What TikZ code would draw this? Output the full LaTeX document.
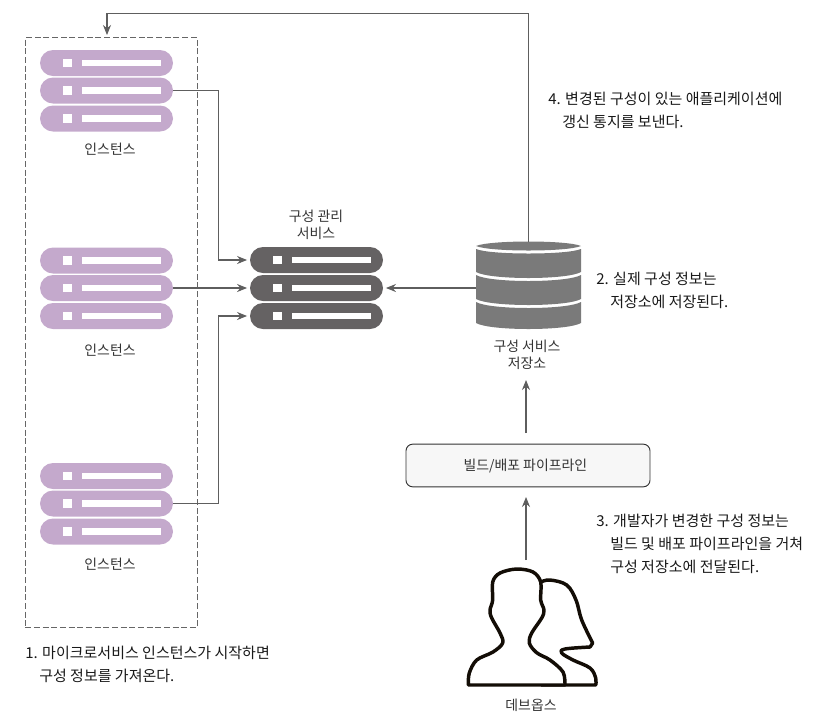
\documentclass[tikz,border=0pt]{standalone}
\usepackage{fontspec}
\setmainfont{Noto Sans CJK KR}[Scale=0.93]
\usetikzlibrary{arrows.meta, positioning}

\definecolor{lilac}{HTML}{C4A9CC}
\definecolor{darkstack}{HTML}{656263}
\definecolor{cyl}{HTML}{7A7A7A}
\definecolor{linegray}{HTML}{5E5E5E}
\definecolor{txt}{HTML}{333333}

\begin{document}
\begin{tikzpicture}[
  x=0.75pt, y=-0.75pt,
  every node/.style={text=txt, font=\fontsize{11.2}{13}\selectfont, align=center, inner sep=0pt},
  pill/.style={minimum width=99.75pt, minimum height=19.5pt, rounded corners=9.75pt},
  inst/.style={pill, fill=lilac},
  mgr/.style={pill, fill=darkstack},
  dot/.style={fill=white, minimum width=6.7pt, minimum height=6.5pt},
  bar/.style={fill=white, minimum width=59.5pt, minimum height=5pt},
  note/.style={align=left, anchor=north west, text=black!90, font=\fontsize{12.1}{17}\selectfont},
  arrow/.style={-{Stealth[length=7.5pt,width=6pt]}, linegray, line width=0.8pt}
]
\useasboundingbox (0,0) rectangle (818,719);

% instance groups
\foreach \g/\yy in {1/63, 2/260.5, 3/476} {
  \foreach \r/\dy in {a/0, b/27.5, c/55.5} {
    \node[inst] (inst\g\r) at (106.5,\yy+\dy) {};
    \node[dot] (dot\g\r) at (67.5,\yy+\dy) {};
    \node[bar] (bar\g\r) at (121.5,\yy+\dy) {};
  }
}
\node (lab1) at (110,149) {인스턴스};
\node (lab2) at (110,350) {인스턴스};
\node (lab3) at (110,564) {인스턴스};
\node[draw=black!60, dash pattern=on 4.5pt off 2pt, line width=1pt, minimum width=129pt, minimum height=442.5pt, anchor=north west] (group) at (24.5,37) {};

% config service
\foreach \r/\yy in {a/260, b/288, c/316} {
  \node[mgr] (mgr\r) at (316.5,\yy) {};
  \node[dot] (mdot\r) at (277.5,\yy) {};
  \node[bar] (mbar\r) at (331.5,\yy) {};
}
\node (mgrlab) at (316,225) {구성 관리\\서비스};

% store
\fill[cyl] (476,246) .. controls (490,240) and (567,240) .. (581,246) .. controls (567,252) and (490,252) .. (476,246) -- cycle;
\fill[cyl] (476,249) .. controls (490,255) and (567,255) .. (581,249) -- (581,272) .. controls (567,280) and (490,280) .. (476,272) -- cycle;
\fill[cyl] (476,275) .. controls (490,283) and (567,283) .. (581,275) -- (581,299) .. controls (567,307) and (490,307) .. (476,299) -- cycle;
\fill[cyl] (476,302) .. controls (490,310) and (567,310) .. (581,302) -- (581,323) .. controls (567,331) and (490,331) .. (476,323) -- cycle;
\coordinate (storew) at (476,288);
\coordinate (storen) at (528.5,242);
\node (storelab) at (527,355) {구성 서비스\\저장소};

% pipeline
\node[draw=black!80, fill=black!3, rounded corners=5pt, line width=0.7pt, minimum width=183pt, minimum height=32pt] (pipe) at (528,465.5) {\hspace*{-4pt}빌드/배포 파이프라인};
\coordinate (pipen) at (526,433);
\coordinate (piper) at (526,380);
\coordinate (devn) at (526,560);
\coordinate (pipes) at (526,497);
\coordinate (grouptop) at (107,35);

% people
\begin{scope}[line width=2.6pt, black!90!brown, line join=round]
\draw[fill=white] plot[smooth, tension=0.6] coordinates {(541,582) (550,580) (566.7,585) (576,600) (581.7,620) (592.7,643)} -- plot[smooth, tension=0.6] coordinates {(590,647) (565,649) (561.7,653) (573,660) (590,668) (595.7,678) (595.7,685)} -- (541,685);
\draw[fill=white] plot[smooth, tension=0.55] coordinates {(468.3,685) (469.3,673) (476.7,660) (493,652) (502.7,643) (500,633) (491.7,618) (490,610) (492.7,600) (492.7,582) (500,573) (516.7,569) (533,572) (540.7,582) (540.7,600) (544,610) (541.7,618) (531.7,633) (529.3,643) (536.7,652.7) (550,660) (563,672) (565,685)} -- cycle;
\end{scope}
\node (devlab) at (531,705) {데브옵스};

% connectors
\draw[arrow, shorten >=2pt] (inst1b.east) -- ++(45,0) |- (mgra.west);
\draw[arrow, shorten >=2pt] (inst2b.east) -- (mgrb.west);
\draw[arrow, shorten >=2pt] (inst3b.east) -- ++(45,0) |- (mgrc.west);
\draw[arrow, shorten >=2pt] (storew) -- (mgrb.east);
\draw[arrow] (storen) |- (grouptop |- 0,13.5) -- (grouptop);
\draw[arrow] (pipen) -- (piper);
\draw[arrow] (devn) -- (pipes);

% notes
\node[note] (note1) at (25,646) {1. 마이크로서비스 인스턴스가 시작하면\\\hspace*{10.5pt}구성 정보를 가져온다.};
\node[note] (note2) at (596,272) {2. 실제 구성 정보는\\\hspace*{10.5pt}저장소에 저장된다.};
\node[note] (note3) at (596,514) {3. 개발자가 변경한 구성 정보는\\\hspace*{10.5pt}빌드 및 배포 파이프라인을 거쳐\\\hspace*{10.5pt}구성 저장소에 전달된다.};
\node[note] (note4) at (548,92) {4. 변경된 구성이 있는 애플리케이션에\\\hspace*{10.5pt}갱신 통지를 보낸다.};
\end{tikzpicture}
\end{document}
